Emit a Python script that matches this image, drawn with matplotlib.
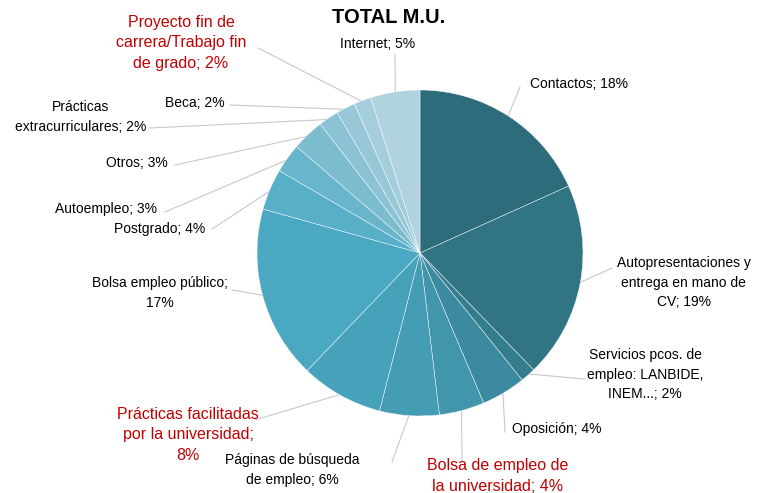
import numpy as np
import matplotlib.pyplot as plt

plt.rcParams['font.family'] = ['Liberation Sans', 'DejaVu Sans']

# slices, clockwise from 12 o'clock
names = ['Contactos', 'Autopresentaciones y\nentrega en mano de\nCV',
         'Servicios pcos. de\nempleo: LANBIDE,\nINEM...', 'Oposición',
         'Bolsa de empleo de\nla universidad', 'Páginas de búsqueda\nde empleo',
         'Prácticas facilitadas\npor la universidad;\n', 'Bolsa empleo público;\n',
         'Postgrado', 'Autoempleo', 'Otros', 'Prácticas\nextracurriculares',
         'Beca', 'Proyecto fin de\ncarrera/Trabajo fin\nde grado', 'Internet']
values = [18.3, 19.5, 1.5, 4.4, 4.5, 5.9, 8.2, 17.2, 4.1, 2.9, 3.2, 2.0, 1.9, 1.7, 4.9]
shown_pct = [18, 19, 2, 4, 4, 6, 8, 17, 4, 3, 3, 2, 2, 2, 5]
highlight = [False, False, False, False, True, False, True, False,
             False, False, False, False, False, True, False]

colors = ['#2d6c7b', '#317584', '#337d8c', '#3b8a9f', '#4196ac', '#449db4',
          '#46a2bb', '#4aa8c2', '#58afc8', '#69b5cb', '#7bbccf', '#8bc2d4',
          '#98c8d8', '#a4cedb', '#b1d3df']

# label layout in pixels: text x, text y, ha, leader end x, leader end y
layout = [
    (530, 84, 'left', 520, 87),
    (617, 283, 'left', 612, 268),
    (645, 375, 'center', 585, 379),
    (512, 429, 'left', 505, 432),
    (498, 476, 'center', 462, 462),
    (292, 470, 'center', 392, 462),
    (188, 435, 'center', 255, 420),
    (160, 293, 'center', 232, 290),
    (205, 229, 'right', 212, 229),
    (157, 209, 'right', 165, 212),
    (168, 163, 'right', 175, 165),
    (146, 117, 'right', 150, 128),
    (225, 103, 'right', 230, 105),
    (181, 43, 'center', 258, 48),
    (378, 44, 'center', 395, 55),
]

W, H = 763, 493
cx, cy, R = 420, 253, 163

fig = plt.figure(figsize=(W / 100, H / 100), dpi=100)
ax = fig.add_axes([0, 0, 1, 1])
ax.axis('off')


def px(x, y):
    return ((x - cx) / R, (cy - y) / R)


wedges, _ = ax.pie(values, colors=colors, startangle=90, counterclock=False,
                   radius=1.0, wedgeprops=dict(edgecolor='white', linewidth=0.3))
ax.set_xlim(-cx / R, (W - cx) / R)
ax.set_ylim((cy - H) / R, cy / R)

for w, name, p, hl, (tx, ty, ha, lx, ly) in zip(wedges, names, shown_pct, highlight, layout):
    mid = np.deg2rad((w.theta1 + w.theta2) / 2)
    start = (np.cos(mid) * 0.99, np.sin(mid) * 0.99)
    if name.endswith('\n'):
        txt = name + '%d%%' % p
    else:
        txt = '%s; %d%%' % (name, p)
    ax.plot([start[0], px(lx, ly)[0]], [start[1], px(lx, ly)[1]],
            color='#c8c8c8', lw=0.8, zorder=0)
    ax.text(*px(tx, ty), txt, ha=ha, va='center', multialignment='center',
            fontsize=11.5 if hl else 10, color='#c00000' if hl else '#000000',
            linespacing=1.45 if hl else 1.5)

ax.text(*px(389, 18), 'TOTAL M.U.', ha='center', va='center',
        fontsize=14.5, fontweight='bold')

fig.savefig('out.png', dpi=100)
